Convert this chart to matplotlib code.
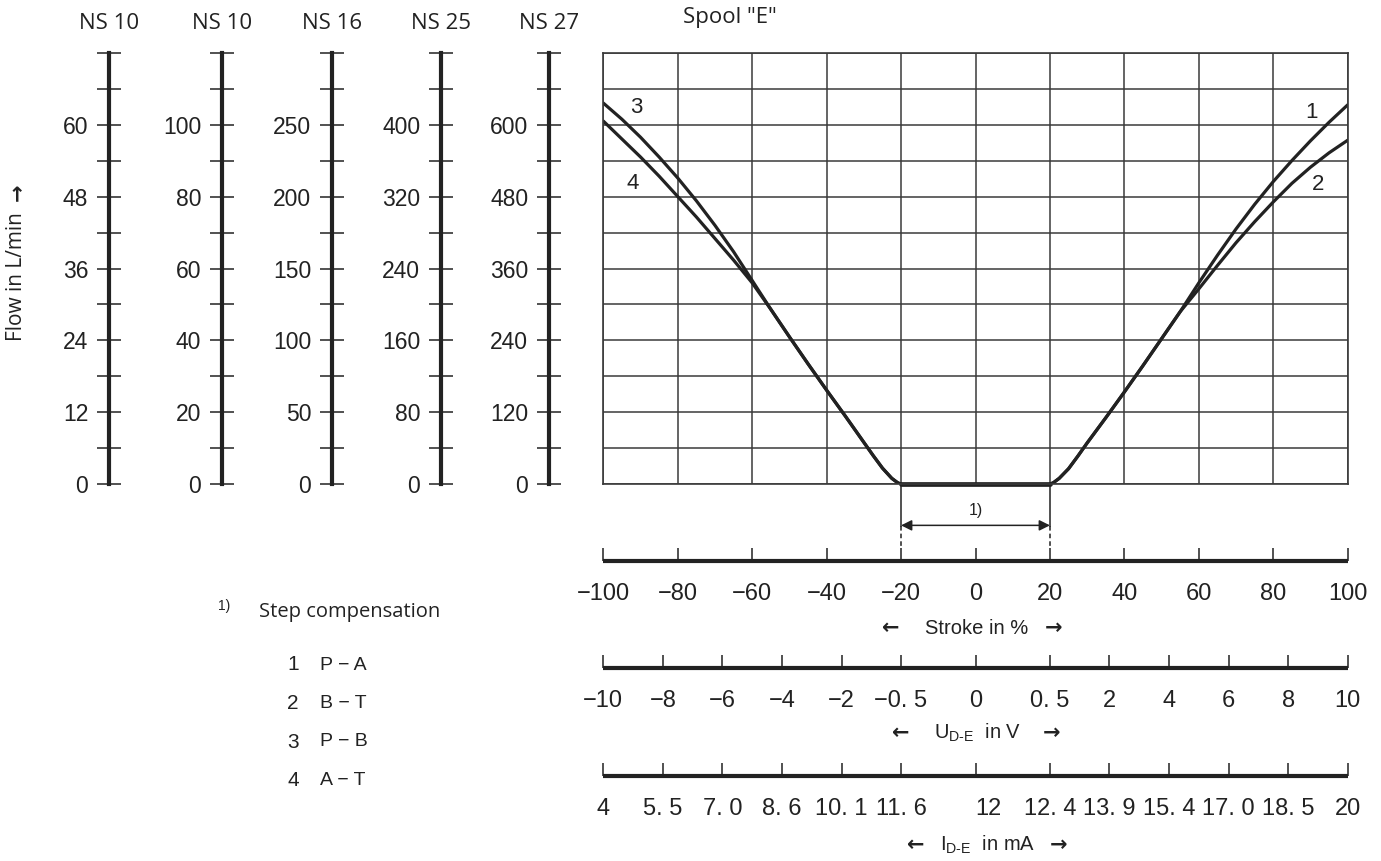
import matplotlib
matplotlib.use('Agg')
import matplotlib.pyplot as plt

# ------------------------------------------------------------------ data
ns_names = ['NS 10', 'NS 10', 'NS 16', 'NS 25', 'NS 27']
ns_ticks = [
    [0, 12, 24, 36, 48, 60],
    [0, 20, 40, 60, 80, 100],
    [0, 50, 100, 150, 200, 250],
    [0, 80, 160, 240, 320, 400],
    [0, 120, 240, 360, 480, 600],
]
ns_top = [72, 120, 300, 480, 720]

stroke_pos = [-100, -80, -60, -40, -20, 0, 20, 40, 60, 80, 100]
stroke_labels = ['−100', '−80', '−60', '−40', '−20', '0', '20', '40', '60', '80', '100']
volt_pos = [-100, -84, -68, -52, -36, -20, 0, 20, 36, 52, 68, 84, 100]
volt_labels = ['−10', '−8', '−6', '−4', '−2', '−0. 5', '0', '0. 5', '2', '4', '6', '8', '10']
curr_labels = ['4', '5. 5', '7. 0', '8. 6', '10. 1', '11. 6', '12', '12. 4', '13. 9',
               '15. 4', '17. 0', '18. 5', '20']

# flow curves (stroke in %, flow in L/min on the NS 10 scale)
deadband_x = [-20, 20]
deadband_y = [0, 0]
pa_x = [20, 21, 22.5, 25, 27.5, 30, 35, 40, 45, 50, 55, 60, 65, 70, 75, 80, 85, 90, 95, 100]
pa_y = [0, 0.3, 1.0, 2.6, 4.7, 6.9, 11.1, 15.4, 19.8, 24.3, 28.8, 33.6, 38.2, 42.6, 46.7,
        50.5, 54.0, 57.3, 60.4, 63.3]
bt_x = [20, 21, 22.5, 25, 27.5, 30, 35, 40, 45, 50, 55, 60, 65, 70, 75, 80, 85, 90, 95, 100]
bt_y = [0, 0.3, 1.0, 2.6, 4.7, 6.9, 11.1, 15.4, 19.8, 24.3, 28.8, 32.6, 36.5, 40.3, 43.8,
        47.1, 50.2, 52.9, 55.3, 57.4]
pb_x = [-20, -21, -22.5, -25, -27.5, -30, -35, -40, -45, -50, -55, -60, -65, -70, -75, -80,
        -85, -90, -95, -100]
pb_y = [0, 0.3, 1.0, 2.7, 4.8, 7.0, 11.4, 15.7, 20.1, 24.6, 29.2, 34.0, 38.8, 43.2, 47.3,
        51.1, 54.6, 57.9, 60.9, 63.6]
at_x = [-20, -21, -22.5, -25, -27.5, -30, -35, -40, -45, -50, -55, -60, -65, -70, -75, -80,
        -85, -90, -95, -100]
at_y = [0, 0.3, 1.0, 2.7, 4.8, 7.0, 11.4, 15.7, 20.1, 24.6, 29.2, 33.6, 37.4, 41.0, 44.6,
        48.0, 51.4, 54.6, 57.6, 60.6]

legend_ids = ['1', '2', '3', '4']
legend_pairs = ['P − A', 'B − T', 'P − B', 'A − T']

# ------------------------------------------------------------------ style
REG = ['Liberation Sans', 'DejaVu Sans']
HUM = ['Open Sans', 'DejaVu Sans']
ARR = ['DejaVu Sans']
plt.rcParams['font.family'] = REG
plt.rcParams['mathtext.fontset'] = 'custom'
plt.rcParams['mathtext.rm'] = 'Liberation Sans'
plt.rcParams['mathtext.it'] = 'Liberation Sans:italic'
plt.rcParams['mathtext.bf'] = 'Liberation Sans:bold'

INK = '#222222'
GRID = '#3a3a3a'
W, H = 1381, 861

def fx(px):
    return px / W

def fy(py):
    return 1 - py / H

fig = plt.figure(figsize=(W / 100, H / 100), dpi=100)
fig.patch.set_facecolor('white')

# ------------------------------------------------------------------ main chart
L, R, T, B = 603.3, 1347.7, 52.7, 484.3
ax = fig.add_axes([fx(L), fy(B), (R - L) / W, (B - T) / H])
ax.set_xlim(-100, 100)
ax.set_ylim(0, 72)
ax.set_xticks(stroke_pos)
ax.set_yticks(range(0, 73, 6))
ax.grid(True, color=GRID, lw=1.1)
ax.set_axisbelow(True)
ax.tick_params(length=0, labelbottom=False, labelleft=False)
for s in ax.spines.values():
    s.set_color(GRID)
    s.set_linewidth(1.2)

for xs, ys in [(pa_x, pa_y), (bt_x, bt_y), (pb_x, pb_y), (at_x, at_y)]:
    ax.plot(xs, ys, color=INK, lw=2.3, solid_capstyle='round', solid_joinstyle='round')
ax.plot(deadband_x, deadband_y, color=INK, lw=3.4, solid_capstyle='round', clip_on=False)

for txt, (x, y) in zip(['1', '2', '3', '4'],
                       [(90.4, 62.0), (92.0, 50.0), (-91.2, 62.9), (-92.0, 50.2)]):
    ax.text(x, y, txt, ha='center', va='center', fontsize=16, color=INK)

# step compensation marker
for x in deadband_x:
    ax.plot([x, x], [0, -6.95], color=INK, lw=1.1, clip_on=False)
    ax.plot([x, x], [-6.95, -10.6], color=INK, lw=1.1, ls=(0, (3, 2)), clip_on=False)
ax.annotate('', xy=(deadband_x[0], -6.85), xytext=(deadband_x[1], -6.85),
            arrowprops=dict(arrowstyle='<|-|>', color=INK, lw=1.1, mutation_scale=16,
                            shrinkA=0, shrinkB=0), annotation_clip=False)
ax.text(sum(deadband_x) / 2, -4.3, '1)', ha='center', va='center', fontsize=11.5, color=INK)

fig.text(fx(683), fy(18), 'Spool "E"', ha='left', va='center', fontsize=16, family=HUM, color=INK)

# ------------------------------------------------------------------ left flow scales
scale_x = [109, 222, 332, 441, 549]
for name, xp, ticks, top in zip(ns_names, scale_x, ns_ticks, ns_top):
    a = fig.add_axes([fx(xp), fy(B), 0.02, (B - T) / H])
    a.patch.set_visible(False)
    a.set_ylim(0, top)
    for k in ['right', 'top', 'bottom']:
        a.spines[k].set_visible(False)
    a.spines['left'].set_linewidth(3.0)
    a.spines['left'].set_color(INK)
    a.set_xticks([])
    step = ticks[1] - ticks[0]
    a.set_yticks(ticks + [top])
    a.set_yticklabels([str(t) for t in ticks] + [''])
    a.set_yticks([t + step / 2 for t in ticks], minor=True)
    a.tick_params(axis='y', which='both', direction='inout', length=17, width=1.1,
                  color=INK, pad=6.5, labelsize=16.5, labelcolor=INK)
    fig.text(fx(xp), fy(23.5), name, ha='center', va='center', fontsize=16, family=HUM, color=INK)

fig.text(fx(17), fy(277), 'Flow in L/min', rotation=90, ha='center', va='center',
         fontsize=15, family=HUM, color=INK)
fig.text(fx(17.5), fy(192), '→', rotation=90, ha='center', va='center',
         fontsize=15, family=ARR, weight='bold', color=INK)

# ------------------------------------------------------------------ bottom scales
bottom_axes = [
    (561, stroke_pos, stroke_labels),
    (668, volt_pos, volt_labels),
    (776, volt_pos, curr_labels),
]
for yp, pos, labels in bottom_axes:
    b = fig.add_axes([fx(L), fy(yp), (R - L) / W, 0.001])
    b.patch.set_visible(False)
    b.set_xlim(-100, 100)
    for k in ['left', 'right', 'top']:
        b.spines[k].set_visible(False)
    b.spines['bottom'].set_linewidth(3.0)
    b.spines['bottom'].set_color(INK)
    b.spines['bottom'].set_capstyle('butt')
    b.set_yticks([])
    b.set_xticks(pos)
    b.set_xticklabels(labels)
    b.tick_params(axis='x', direction='in', length=9.5, width=1.1, color=INK,
                  pad=16, labelsize=17, labelcolor=INK)
    if labels is curr_labels:
        lab = b.get_xticklabels()[labels.index('12')]
        lab.set_ha('left')

# axis titles: (left arrow x, text x, right arrow x, y, text)
axis_titles = [
    (891, 977, 1054, 628, 'Stroke in %'),
    (901, 978, 1052, 733, r'U$_{\text{D-E}}$  in V'),
    (916, 988, 1059, 845, r'I$_{\text{D-E}}$  in mA'),
]
for la, tx, ra, ty, txt in axis_titles:
    fig.text(fx(tx), fy(ty), txt, ha='center', va='center', fontsize=14.5, color=INK)
    fig.text(fx(la), fy(ty), '←', ha='center', va='center', fontsize=15, family=ARR,
             weight='bold', color=INK)
    fig.text(fx(ra), fy(ty), '→', ha='center', va='center', fontsize=15, family=ARR,
             weight='bold', color=INK)

# ------------------------------------------------------------------ notes / legend
fig.text(fx(218), fy(606), '1)', ha='left', va='center', fontsize=10, color=INK)
fig.text(fx(259), fy(612), 'Step compensation', ha='left', va='center', fontsize=14.5,
         family=HUM, color=INK)
for i, (lid, pair) in enumerate(zip(legend_ids, legend_pairs)):
    yy = 665 + i * 38.5
    fig.text(fx(287), fy(yy), lid, ha='left', va='center', fontsize=15, color=INK)
    fig.text(fx(320), fy(yy), pair, ha='left', va='center', fontsize=14, color=INK)

fig.savefig('out.png', dpi=100, facecolor='white')
